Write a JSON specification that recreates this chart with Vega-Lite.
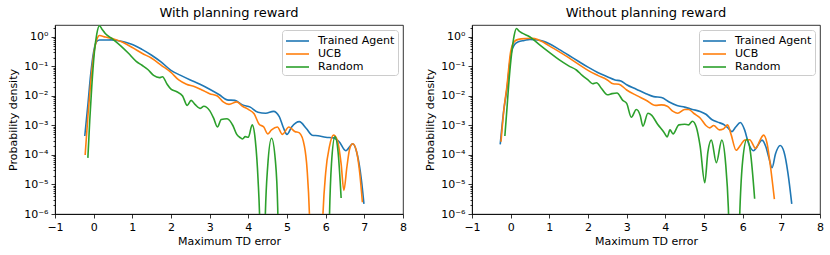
{
 "$schema": "https://vega.github.io/schema/vega-lite/v6.json",
 "padding": {"left": 7, "top": 6, "right": 5, "bottom": 5},
 "spacing": 17,
 "background": "white",
 "config": {
  "font": "DejaVu Sans",
  "view": {"stroke": "black", "strokeWidth": 0.8},
  "axis": {"grid": false, "labelFont": "DejaVu Sans", "labelFontSize": 11, "labelColor": "black", "titleFont": "DejaVu Sans", "titleFontSize": 11, "titleFontWeight": "normal", "titleColor": "black", "tickColor": "black", "domainColor": "black", "domainWidth": 0.8, "tickWidth": 0.8, "labelOverlap": false, "labelFlush": false, "labelPadding": 3},
  "title": {"font": "DejaVu Sans", "fontSize": 13, "fontWeight": "normal", "color": "black", "offset": 2},
  "legend": {"strokeColor": "#cccccc", "fillColor": "rgba(255,255,255,0.8)", "cornerRadius": 3, "padding": 3, "offset": 5, "symbolType": "M-1,0H2.29", "symbolSize": 196, "symbolStrokeWidth": 1.6, "symbolFillColor": "transparent", "labelFont": "DejaVu Sans", "labelFontSize": 11, "labelColor": "black", "rowPadding": 0, "labelOffset": 17}
 },
 "resolve": {"legend": {"color": "independent"}},
 "datasets": {
  "with": [
   {"s":"Trained Agent","x":-0.23,"y":4.4e-4},{"s":"Trained Agent","x":-0.15,"y":5.0e-3},{"s":"Trained Agent","x":-0.08,"y":0.05},{"s":"Trained Agent","x":0.0,"y":0.32},{"s":"Trained Agent","x":0.08,"y":0.71},{"s":"Trained Agent","x":0.15,"y":0.79},{"s":"Trained Agent","x":0.3,"y":0.79},{"s":"Trained Agent","x":0.45,"y":0.8},{"s":"Trained Agent","x":0.6,"y":0.76},{"s":"Trained Agent","x":0.8,"y":0.68},{"s":"Trained Agent","x":1.0,"y":0.56},{"s":"Trained Agent","x":1.25,"y":0.38},{"s":"Trained Agent","x":1.5,"y":0.24},{"s":"Trained Agent","x":1.75,"y":0.14},{"s":"Trained Agent","x":2.0,"y":0.074},{"s":"Trained Agent","x":2.25,"y":0.05},{"s":"Trained Agent","x":2.5,"y":0.035},{"s":"Trained Agent","x":2.75,"y":0.025},{"s":"Trained Agent","x":3.0,"y":0.017},{"s":"Trained Agent","x":3.25,"y":0.011},{"s":"Trained Agent","x":3.45,"y":0.0074},{"s":"Trained Agent","x":3.65,"y":0.0071},{"s":"Trained Agent","x":3.85,"y":0.005},{"s":"Trained Agent","x":4.05,"y":0.0042},{"s":"Trained Agent","x":4.25,"y":0.0028},{"s":"Trained Agent","x":4.45,"y":0.0026},{"s":"Trained Agent","x":4.65,"y":0.003},{"s":"Trained Agent","x":4.8,"y":0.002},{"s":"Trained Agent","x":4.9,"y":8.9e-4},{"s":"Trained Agent","x":5.0,"y":5.0e-4},{"s":"Trained Agent","x":5.12,"y":8.9e-4},{"s":"Trained Agent","x":5.32,"y":1.35e-3},{"s":"Trained Agent","x":5.5,"y":7.9e-4},{"s":"Trained Agent","x":5.65,"y":4.7e-4},{"s":"Trained Agent","x":5.8,"y":4.5e-4},{"s":"Trained Agent","x":6.0,"y":4.0e-4},{"s":"Trained Agent","x":6.2,"y":3.8e-4},{"s":"Trained Agent","x":6.35,"y":2.8e-4},{"s":"Trained Agent","x":6.52,"y":1.4e-4},{"s":"Trained Agent","x":6.7,"y":2.4e-4},{"s":"Trained Agent","x":6.82,"y":1e-4},{"s":"Trained Agent","x":6.92,"y":1.6e-5},{"s":"Trained Agent","x":6.99,"y":2.2e-6},
   {"s":"UCB","x":-0.22,"y":1e-4},{"s":"UCB","x":-0.15,"y":2e-3},{"s":"UCB","x":-0.08,"y":0.025},{"s":"UCB","x":0.0,"y":0.25},{"s":"UCB","x":0.08,"y":0.8},{"s":"UCB","x":0.15,"y":1.12},{"s":"UCB","x":0.3,"y":1.0},{"s":"UCB","x":0.5,"y":0.87},{"s":"UCB","x":0.75,"y":0.66},{"s":"UCB","x":1.0,"y":0.44},{"s":"UCB","x":1.25,"y":0.28},{"s":"UCB","x":1.5,"y":0.19},{"s":"UCB","x":1.75,"y":0.11},{"s":"UCB","x":2.0,"y":0.063},{"s":"UCB","x":2.2,"y":0.035},{"s":"UCB","x":2.4,"y":0.025},{"s":"UCB","x":2.6,"y":0.021},{"s":"UCB","x":2.8,"y":0.016},{"s":"UCB","x":3.0,"y":0.012},{"s":"UCB","x":3.2,"y":0.01},{"s":"UCB","x":3.35,"y":0.0063},{"s":"UCB","x":3.5,"y":0.0052},{"s":"UCB","x":3.7,"y":0.0063},{"s":"UCB","x":3.85,"y":0.0045},{"s":"UCB","x":4.0,"y":0.0035},{"s":"UCB","x":4.15,"y":0.0025},{"s":"UCB","x":4.28,"y":0.0011},{"s":"UCB","x":4.4,"y":8.9e-4},{"s":"UCB","x":4.5,"y":5.2e-4},{"s":"UCB","x":4.6,"y":7.1e-4},{"s":"UCB","x":4.75,"y":8.9e-4},{"s":"UCB","x":4.88,"y":5.0e-4},{"s":"UCB","x":5.05,"y":8.9e-4},{"s":"UCB","x":5.2,"y":6.3e-4},{"s":"UCB","x":5.32,"y":5.6e-4},{"s":"UCB","x":5.45,"y":2e-4},{"s":"UCB","x":5.52,"y":3.2e-5},{"s":"UCB","x":5.58,"y":1e-6},{"s":"UCB","x":5.62,"y":1e-8},{"s":"UCB","x":5.88,"y":1e-8},{"s":"UCB","x":5.93,"y":1e-6},{"s":"UCB","x":6.0,"y":2.5e-5},{"s":"UCB","x":6.1,"y":2e-4},{"s":"UCB","x":6.2,"y":4.7e-4},{"s":"UCB","x":6.3,"y":3.2e-4},{"s":"UCB","x":6.4,"y":5e-5},{"s":"UCB","x":6.47,"y":6.3e-6},{"s":"UCB","x":6.55,"y":4e-5},{"s":"UCB","x":6.62,"y":1.6e-4},{"s":"UCB","x":6.7,"y":2.4e-4},{"s":"UCB","x":6.8,"y":1.3e-4},{"s":"UCB","x":6.88,"y":2.5e-5},{"s":"UCB","x":6.95,"y":2.5e-6},
   {"s":"Random","x":-0.15,"y":8e-5},{"s":"Random","x":-0.1,"y":1.6e-3},{"s":"Random","x":-0.05,"y":0.02},{"s":"Random","x":0.02,"y":0.32},{"s":"Random","x":0.08,"y":1.26},{"s":"Random","x":0.15,"y":2.4},{"s":"Random","x":0.22,"y":1.8},{"s":"Random","x":0.3,"y":1.32},{"s":"Random","x":0.5,"y":0.83},{"s":"Random","x":0.7,"y":0.5},{"s":"Random","x":0.9,"y":0.28},{"s":"Random","x":1.1,"y":0.15},{"s":"Random","x":1.25,"y":0.11},{"s":"Random","x":1.4,"y":0.079},{"s":"Random","x":1.55,"y":0.05},{"s":"Random","x":1.7,"y":0.042},{"s":"Random","x":1.78,"y":0.045},{"s":"Random","x":1.9,"y":0.025},{"s":"Random","x":2.0,"y":0.017},{"s":"Random","x":2.15,"y":0.014},{"s":"Random","x":2.3,"y":0.01},{"s":"Random","x":2.42,"y":0.0048},{"s":"Random","x":2.52,"y":0.0071},{"s":"Random","x":2.62,"y":0.0052},{"s":"Random","x":2.75,"y":0.0038},{"s":"Random","x":2.85,"y":0.0045},{"s":"Random","x":3.0,"y":0.0032},{"s":"Random","x":3.1,"y":0.0018},{"s":"Random","x":3.2,"y":8.9e-4},{"s":"Random","x":3.3,"y":1.6e-3},{"s":"Random","x":3.45,"y":1.7e-3},{"s":"Random","x":3.6,"y":1e-3},{"s":"Random","x":3.7,"y":5e-4},{"s":"Random","x":3.8,"y":3.8e-4},{"s":"Random","x":3.85,"y":3.5e-4},{"s":"Random","x":3.92,"y":4.2e-4},{"s":"Random","x":4.0,"y":4e-4},{"s":"Random","x":4.1,"y":1.05e-3},{"s":"Random","x":4.18,"y":3.2e-4},{"s":"Random","x":4.25,"y":1.6e-5},{"s":"Random","x":4.3,"y":3e-7},{"s":"Random","x":4.32,"y":1e-8},{"s":"Random","x":4.41,"y":1e-8},{"s":"Random","x":4.43,"y":3e-7},{"s":"Random","x":4.5,"y":4e-5},{"s":"Random","x":4.6,"y":3.7e-4},{"s":"Random","x":4.7,"y":6.3e-5},{"s":"Random","x":4.76,"y":1.6e-6},{"s":"Random","x":4.79,"y":1e-8},{"s":"Random","x":6.07,"y":1e-8},{"s":"Random","x":6.1,"y":1e-6},{"s":"Random","x":6.15,"y":5e-5},{"s":"Random","x":6.24,"y":4.2e-4},{"s":"Random","x":6.32,"y":1.3e-4},{"s":"Random","x":6.4,"y":3.5e-6}
  ],
  "without": [
   {"s":"Trained Agent","x":-0.27,"y":2.3e-4},{"s":"Trained Agent","x":-0.18,"y":3.2e-3},{"s":"Trained Agent","x":-0.1,"y":0.016},{"s":"Trained Agent","x":0.0,"y":0.23},{"s":"Trained Agent","x":0.1,"y":0.56},{"s":"Trained Agent","x":0.2,"y":0.69},{"s":"Trained Agent","x":0.35,"y":0.76},{"s":"Trained Agent","x":0.5,"y":0.83},{"s":"Trained Agent","x":0.7,"y":0.79},{"s":"Trained Agent","x":0.85,"y":0.71},{"s":"Trained Agent","x":1.0,"y":0.59},{"s":"Trained Agent","x":1.25,"y":0.38},{"s":"Trained Agent","x":1.5,"y":0.24},{"s":"Trained Agent","x":1.75,"y":0.15},{"s":"Trained Agent","x":2.0,"y":0.095},{"s":"Trained Agent","x":2.25,"y":0.063},{"s":"Trained Agent","x":2.5,"y":0.045},{"s":"Trained Agent","x":2.7,"y":0.035},{"s":"Trained Agent","x":2.85,"y":0.032},{"s":"Trained Agent","x":3.0,"y":0.024},{"s":"Trained Agent","x":3.25,"y":0.017},{"s":"Trained Agent","x":3.5,"y":0.012},{"s":"Trained Agent","x":3.7,"y":0.0095},{"s":"Trained Agent","x":3.9,"y":0.0089},{"s":"Trained Agent","x":4.1,"y":0.0063},{"s":"Trained Agent","x":4.3,"y":0.0048},{"s":"Trained Agent","x":4.5,"y":0.0042},{"s":"Trained Agent","x":4.7,"y":0.0035},{"s":"Trained Agent","x":4.9,"y":0.003},{"s":"Trained Agent","x":5.05,"y":0.0024},{"s":"Trained Agent","x":5.2,"y":0.0016},{"s":"Trained Agent","x":5.35,"y":1.3e-3},{"s":"Trained Agent","x":5.5,"y":1.1e-3},{"s":"Trained Agent","x":5.62,"y":8.3e-4},{"s":"Trained Agent","x":5.72,"y":6.2e-4},{"s":"Trained Agent","x":5.82,"y":8.9e-4},{"s":"Trained Agent","x":5.94,"y":1.26e-3},{"s":"Trained Agent","x":6.05,"y":7.1e-4},{"s":"Trained Agent","x":6.15,"y":2.5e-4},{"s":"Trained Agent","x":6.28,"y":1.4e-4},{"s":"Trained Agent","x":6.4,"y":2.2e-4},{"s":"Trained Agent","x":6.5,"y":3.2e-4},{"s":"Trained Agent","x":6.6,"y":1.9e-4},{"s":"Trained Agent","x":6.68,"y":7.9e-5},{"s":"Trained Agent","x":6.76,"y":3.7e-5},{"s":"Trained Agent","x":6.85,"y":1.1e-4},{"s":"Trained Agent","x":6.97,"y":2.1e-4},{"s":"Trained Agent","x":7.07,"y":1.26e-4},{"s":"Trained Agent","x":7.17,"y":2.5e-5},{"s":"Trained Agent","x":7.27,"y":2.2e-6},
   {"s":"UCB","x":-0.25,"y":2.8e-4},{"s":"UCB","x":-0.17,"y":4e-3},{"s":"UCB","x":-0.1,"y":0.02},{"s":"UCB","x":0.0,"y":0.32},{"s":"UCB","x":0.1,"y":0.71},{"s":"UCB","x":0.2,"y":0.83},{"s":"UCB","x":0.4,"y":0.89},{"s":"UCB","x":0.55,"y":0.91},{"s":"UCB","x":0.7,"y":0.83},{"s":"UCB","x":0.85,"y":0.66},{"s":"UCB","x":1.0,"y":0.5},{"s":"UCB","x":1.25,"y":0.32},{"s":"UCB","x":1.5,"y":0.2},{"s":"UCB","x":1.75,"y":0.12},{"s":"UCB","x":2.0,"y":0.074},{"s":"UCB","x":2.25,"y":0.05},{"s":"UCB","x":2.5,"y":0.035},{"s":"UCB","x":2.65,"y":0.026},{"s":"UCB","x":2.8,"y":0.025},{"s":"UCB","x":3.0,"y":0.016},{"s":"UCB","x":3.25,"y":0.0105},{"s":"UCB","x":3.5,"y":0.0072},{"s":"UCB","x":3.75,"y":0.0048},{"s":"UCB","x":3.9,"y":0.005},{"s":"UCB","x":4.05,"y":0.0045},{"s":"UCB","x":4.2,"y":0.003},{"s":"UCB","x":4.32,"y":0.0026},{"s":"UCB","x":4.5,"y":0.0035},{"s":"UCB","x":4.6,"y":0.0035},{"s":"UCB","x":4.75,"y":0.0025},{"s":"UCB","x":4.9,"y":0.0018},{"s":"UCB","x":5.05,"y":1e-3},{"s":"UCB","x":5.15,"y":8.3e-4},{"s":"UCB","x":5.25,"y":1e-3},{"s":"UCB","x":5.4,"y":7.1e-4},{"s":"UCB","x":5.5,"y":7.6e-4},{"s":"UCB","x":5.61,"y":1.05e-3},{"s":"UCB","x":5.7,"y":5e-4},{"s":"UCB","x":5.83,"y":1.45e-4},{"s":"UCB","x":5.95,"y":2.2e-4},{"s":"UCB","x":6.05,"y":3.2e-4},{"s":"UCB","x":6.18,"y":3.3e-4},{"s":"UCB","x":6.34,"y":1.66e-4},{"s":"UCB","x":6.45,"y":3.2e-4},{"s":"UCB","x":6.54,"y":4.7e-4},{"s":"UCB","x":6.63,"y":2.5e-4},{"s":"UCB","x":6.72,"y":4e-5},{"s":"UCB","x":6.82,"y":3.2e-6},
   {"s":"Random","x":-0.15,"y":4.4e-4},{"s":"Random","x":-0.1,"y":3.2e-3},{"s":"Random","x":-0.05,"y":0.025},{"s":"Random","x":0.03,"y":0.32},{"s":"Random","x":0.09,"y":1.12},{"s":"Random","x":0.15,"y":1.95},{"s":"Random","x":0.22,"y":1.58},{"s":"Random","x":0.3,"y":1.35},{"s":"Random","x":0.5,"y":1.0},{"s":"Random","x":0.75,"y":0.54},{"s":"Random","x":1.0,"y":0.3},{"s":"Random","x":1.25,"y":0.17},{"s":"Random","x":1.5,"y":0.105},{"s":"Random","x":1.7,"y":0.076},{"s":"Random","x":1.85,"y":0.05},{"s":"Random","x":2.0,"y":0.035},{"s":"Random","x":2.12,"y":0.026},{"s":"Random","x":2.22,"y":0.028},{"s":"Random","x":2.35,"y":0.018},{"s":"Random","x":2.5,"y":0.011},{"s":"Random","x":2.62,"y":0.012},{"s":"Random","x":2.75,"y":0.0126},{"s":"Random","x":2.9,"y":0.0071},{"s":"Random","x":3.0,"y":0.0056},{"s":"Random","x":3.12,"y":1.9e-3},{"s":"Random","x":3.25,"y":3.5e-3},{"s":"Random","x":3.35,"y":2.2e-3},{"s":"Random","x":3.42,"y":9.5e-4},{"s":"Random","x":3.55,"y":2.6e-3},{"s":"Random","x":3.65,"y":2.2e-3},{"s":"Random","x":3.8,"y":1.1e-3},{"s":"Random","x":3.95,"y":6.3e-4},{"s":"Random","x":4.05,"y":4.1e-4},{"s":"Random","x":4.12,"y":7.1e-4},{"s":"Random","x":4.2,"y":5.2e-4},{"s":"Random","x":4.35,"y":1.05e-3},{"s":"Random","x":4.5,"y":1.1e-3},{"s":"Random","x":4.6,"y":1.05e-3},{"s":"Random","x":4.7,"y":1.4e-3},{"s":"Random","x":4.8,"y":8.9e-4},{"s":"Random","x":4.9,"y":2e-4},{"s":"Random","x":5.02,"y":1.15e-5},{"s":"Random","x":5.1,"y":1.26e-4},{"s":"Random","x":5.19,"y":3.2e-4},{"s":"Random","x":5.32,"y":5.5e-5},{"s":"Random","x":5.46,"y":3.2e-4},{"s":"Random","x":5.56,"y":5e-5},{"s":"Random","x":5.63,"y":1.6e-6},{"s":"Random","x":5.68,"y":1e-8},{"s":"Random","x":5.88,"y":1e-8},{"s":"Random","x":5.93,"y":1.6e-6},{"s":"Random","x":6.0,"y":6.3e-5},{"s":"Random","x":6.11,"y":3.4e-4},{"s":"Random","x":6.2,"y":1.26e-4},{"s":"Random","x":6.31,"y":3.3e-6}
  ]
 },
 "hconcat": [
  {
   "width": 348, "height": 189,
   "title": "With planning reward",
   "data": {"name": "with"},
   "mark": {"type": "line", "interpolate": "monotone", "clip": true, "strokeWidth": 1.6},
   "encoding": {
    "x": {"field": "x", "type": "quantitative", "scale": {"domain": [-1, 8], "nice": false, "zero": false}, "axis": {"title": "Maximum TD error", "values": [-1,0,1,2,3,4,5,6,7,8], "labelExpr": "datum.value < 0 ? '−' + abs(datum.value) : '' + datum.value", "tickSize": 4, "titlePadding": 3}},
    "y": {"field": "y", "type": "quantitative", "scale": {"type": "log", "domain": [1e-6, 2.55], "nice": false}, "axis": {"title": "Probability density", "titlePadding": 5, "values": [1e-6,2e-6,3e-6,4e-6,5e-6,6e-6,7e-6,8e-6,9e-6,1e-5,2e-5,3e-5,4e-5,5e-5,6e-5,7e-5,8e-5,9e-5,1e-4,2e-4,3e-4,4e-4,5e-4,6e-4,7e-4,8e-4,9e-4,0.001,0.002,0.003,0.004,0.005,0.006,0.007,0.008,0.009,0.01,0.02,0.03,0.04,0.05,0.06,0.07,0.08,0.09,0.1,0.2,0.3,0.4,0.5,0.6,0.7,0.8,0.9,1,2], "labelExpr": "abs(log(datum.value)/LN10 - round(log(datum.value)/LN10)) < 0.01 ? '10' + (round(log(datum.value)/LN10) < 0 ? '⁻' : '') + ['⁰','¹','²','³','⁴','⁵','⁶'][abs(round(log(datum.value)/LN10))] : ''", "tickSize": {"condition": {"test": "abs(log(datum.value)/LN10 - round(log(datum.value)/LN10)) < 0.01", "value": 4}, "value": 2}}},
    "color": {"field": "s", "type": "nominal", "scale": {"domain": ["Trained Agent", "UCB", "Random"], "range": ["#1f77b4", "#ff7f0e", "#2ca02c"]}, "legend": {"title": null, "orient": "top-right"}}
   }
  },
  {
   "width": 348, "height": 189,
   "title": "Without planning reward",
   "data": {"name": "without"},
   "mark": {"type": "line", "interpolate": "monotone", "clip": true, "strokeWidth": 1.6},
   "encoding": {
    "x": {"field": "x", "type": "quantitative", "scale": {"domain": [-1, 8], "nice": false, "zero": false}, "axis": {"title": "Maximum TD error", "values": [-1,0,1,2,3,4,5,6,7,8], "labelExpr": "datum.value < 0 ? '−' + abs(datum.value) : '' + datum.value", "tickSize": 4, "titlePadding": 3}},
    "y": {"field": "y", "type": "quantitative", "scale": {"type": "log", "domain": [1e-6, 2.55], "nice": false}, "axis": {"title": "Probability density", "titlePadding": 5, "values": [1e-6,2e-6,3e-6,4e-6,5e-6,6e-6,7e-6,8e-6,9e-6,1e-5,2e-5,3e-5,4e-5,5e-5,6e-5,7e-5,8e-5,9e-5,1e-4,2e-4,3e-4,4e-4,5e-4,6e-4,7e-4,8e-4,9e-4,0.001,0.002,0.003,0.004,0.005,0.006,0.007,0.008,0.009,0.01,0.02,0.03,0.04,0.05,0.06,0.07,0.08,0.09,0.1,0.2,0.3,0.4,0.5,0.6,0.7,0.8,0.9,1,2], "labelExpr": "abs(log(datum.value)/LN10 - round(log(datum.value)/LN10)) < 0.01 ? '10' + (round(log(datum.value)/LN10) < 0 ? '⁻' : '') + ['⁰','¹','²','³','⁴','⁵','⁶'][abs(round(log(datum.value)/LN10))] : ''", "tickSize": {"condition": {"test": "abs(log(datum.value)/LN10 - round(log(datum.value)/LN10)) < 0.01", "value": 4}, "value": 2}}},
    "color": {"field": "s", "type": "nominal", "scale": {"domain": ["Trained Agent", "UCB", "Random"], "range": ["#1f77b4", "#ff7f0e", "#2ca02c"]}, "legend": {"title": null, "orient": "top-right"}}
   }
  }
 ]
}
